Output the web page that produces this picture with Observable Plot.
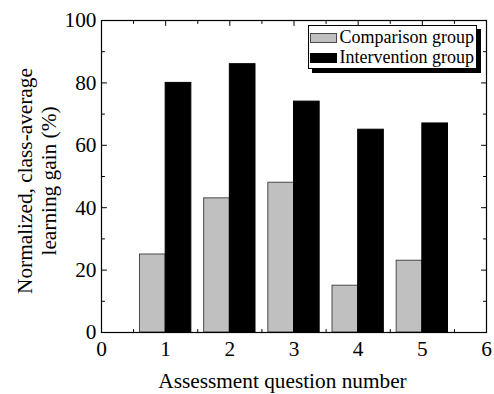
<!DOCTYPE html>
<html>
<head>
<meta charset="utf-8">
<script src="https://cdn.jsdelivr.net/npm/d3@7"></script>
<script src="https://cdn.jsdelivr.net/npm/@observablehq/plot@0.6"></script>
<style>
  body { margin: 0; background: #fff; }
  #wrap { position: relative; width: 494px; height: 394px; }
  .legend { position: absolute; left: 308px; top: 25px; width: 167px; height: 42px;
    border: 1px solid #000; box-shadow: 4px 4px 0 #000; background: #fff;
    font-family: "Liberation Serif", "Times New Roman", serif; font-size: 18px; color: #000; }
  .legend .row { position: absolute; left: 1px; height: 20px; white-space: nowrap; }
  .legend .sw { position: absolute; left: 0; top: 0; width: 27px; height: 10px; box-sizing: border-box; }
  .legend .lab { position: absolute; left: 29.5px; top: -6px; line-height: 20px; }
  .ylab { position: absolute; left: 36.5px; top: 181px; width: 300px; height: 48px;
    margin-left: -150px; margin-top: -24px; transform: rotate(-90deg);
    font-family: "Liberation Serif", "Times New Roman", serif; font-size: 21.3px;
    line-height: 24px; text-align: center; color: #000; white-space: nowrap; }
</style>
</head>
<body>
<div id="wrap"></div>
<script>
const questions = [1, 2, 3, 4, 5];
const comparison = [25, 43, 48, 15, 23];
const intervention = [80, 86, 74, 65, 67];
const seriesNames = ["Comparison group", "Intervention group"];
const xTicks = [0, 1, 2, 3, 4, 5, 6];
const xMinor = [0.5, 1.5, 2.5, 3.5, 4.5, 5.5];
const yTicks = [0, 20, 40, 60, 80, 100];
const yMinor = [10, 30, 50, 70, 90];
const xLabel = "Assessment question number";
const yLabelLines = ["Normalized, class-average", "learning gain (%)"];

const barW = 0.4;
const compRows = questions.map((q, i) => ({q, value: comparison[i], x1: q - barW, x2: q}));
const intRows = questions.map((q, i) => ({q, value: intervention[i], x1: q, x2: q + barW}));

const tickShape = { draw(ctx, l) { ctx.moveTo(0, 0); ctx.lineTo(0, -l); } };
function ticks(vals, axis, pos, rot, len) {
  return Plot.vector(vals, axis === "x"
    ? {x: d => d, y: () => pos, rotate: rot, length: len, anchor: "start", shape: tickShape, stroke: "#000", strokeWidth: 1}
    : {y: d => d, x: () => pos, rotate: rot, length: len, anchor: "start", shape: tickShape, stroke: "#000", strokeWidth: 1});
}

const chart = Plot.plot({
  width: 494,
  height: 394,
  marginLeft: 101,
  marginRight: 8,
  marginTop: 20,
  marginBottom: 62,
  style: {fontFamily: "'Liberation Serif', 'Times New Roman', serif", fontSize: "21.3px", color: "#000", background: "#fff", overflow: "visible"},
  x: {domain: [0, 6]},
  y: {domain: [0, 100]},
  marks: [
    Plot.rect(compRows, {x1: "x1", x2: "x2", y1: 0, y2: "value", fill: "#c0c0c0", stroke: "#4a4a4a", strokeWidth: 1}),
    Plot.rect(intRows, {x1: "x1", x2: "x2", y1: 0, y2: "value", fill: "#000", stroke: "#000", strokeWidth: 1}),
    ticks(xTicks, "x", 0, 0, 5),
    ticks(xTicks, "x", 100, 180, 5),
    ticks(xMinor, "x", 0, 0, 3),
    ticks(xMinor, "x", 100, 180, 3),
    ticks(yTicks, "y", 0, 90, 5),
    ticks(yTicks, "y", 6, -90, 5),
    ticks(yMinor, "y", 0, 90, 3),
    ticks(yMinor, "y", 6, -90, 3),
    Plot.frame({stroke: "#000", strokeWidth: 1.2}),
    Plot.axisX({ticks: xTicks, tickFormat: d3.format("d"), tickSize: 0, tickPadding: 8, label: null, fontSize: 21.3}),
    Plot.axisY({ticks: yTicks, tickFormat: d3.format("d"), tickSize: 0, tickPadding: 5, label: null, fontSize: 21.3})
  ]
});

const wrap = document.getElementById("wrap");
wrap.appendChild(chart);

// x-axis title as SVG text (baseline ~388, centred slightly left of frame centre as in the reference)
d3.select(chart).append("text")
  .attr("x", 282.5)
  .attr("y", 388)
  .attr("text-anchor", "middle")
  .attr("font-size", 21.3)
  .attr("fill", "#000")
  .text(xLabel);

const ylab = document.createElement("div");
ylab.className = "ylab";
ylab.innerHTML = yLabelLines.map(s => s.replace(/&/g, "&amp;")).join("<br>");
wrap.appendChild(ylab);

const legend = document.createElement("div");
legend.className = "legend";
const fills = [["#c0c0c0", "#4a4a4a"], ["#000", "#000"]];
seriesNames.forEach((name, i) => {
  const row = document.createElement("div");
  row.className = "row";
  row.style.top = (7 + i * 20) + "px";
  const sw = document.createElement("div");
  sw.className = "sw";
  sw.style.background = fills[i][0];
  sw.style.border = "1px solid " + fills[i][1];
  const lab = document.createElement("div");
  lab.className = "lab";
  lab.textContent = name;
  row.appendChild(sw);
  row.appendChild(lab);
  legend.appendChild(row);
});
wrap.appendChild(legend);
</script>
</body>
</html>
